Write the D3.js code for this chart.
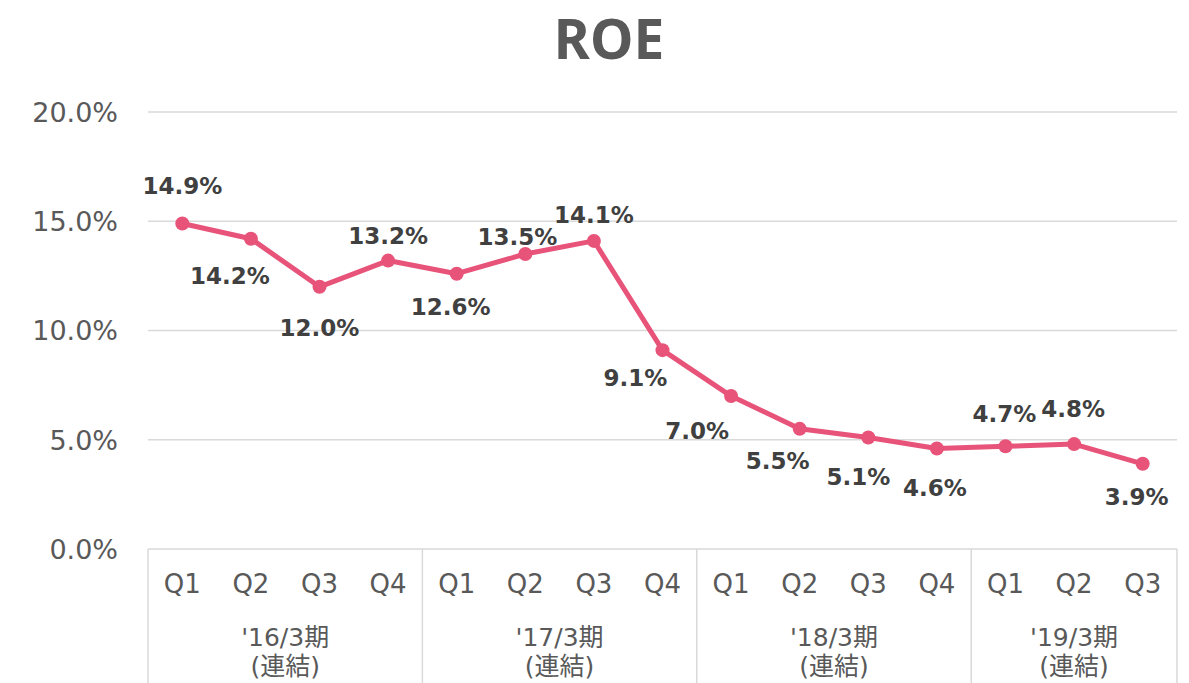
<!DOCTYPE html>
<html>
<head>
<meta charset="utf-8">
<script src="https://cdn.jsdelivr.net/npm/d3@7"></script>
<style>
  body { margin: 0; background: #fff; }
  svg text { font-family: "DejaVu Sans", "Noto Sans CJK JP", sans-serif; }
</style>
</head>
<body>
<div id="chart"></div>
<script>
// data
const quarters = ["Q1", "Q2", "Q3", "Q4", "Q1", "Q2", "Q3", "Q4", "Q1", "Q2", "Q3", "Q4", "Q1", "Q2", "Q3"];
const periods = ["'16/3期", "'17/3期", "'18/3期", "'19/3期"];
const periodSizes = [4, 4, 4, 3];
const roe = [14.9, 14.2, 12.0, 13.2, 12.6, 13.5, 14.1, 9.1, 7.0, 5.5, 5.1, 4.6, 4.7, 4.8, 3.9];
const yTicks = [0, 5, 10, 15, 20];

// label placement (offset from each point, px)
const labelDx = [0, -21, 0, 0, -6, -8, 0, -27, -34, -22, -10, -2, -1, -1, -6];
const labelDy = [-37, 37, 41, -25, 33, -17, -26, 28, 35, 32, 39, 39, -32, -35, 33];

const W = 1189, H = 683;
const plotL = 148, plotR = 1177, plotT = 112, plotB = 549;

const svg = d3.select("#chart").append("svg")
  .attr("width", W)
  .attr("height", H);

const x = d3.scaleBand()
  .domain(d3.range(quarters.length))
  .range([plotL, plotR]);

const y = d3.scaleLinear()
  .domain([0, 20])
  .range([plotB, plotT]);

// title
svg.append("text")
  .attr("x", 609)
  .attr("y", 59)
  .attr("text-anchor", "middle")
  .style("font-family", "'Noto Sans', 'DejaVu Sans', sans-serif")
  .style("font-weight", "bold")
  .style("font-size", "55px")
  .style("fill", "#595959")
  .text("ROE");

// gridlines
svg.append("g")
  .selectAll("line")
  .data(yTicks)
  .enter()
  .append("line")
  .attr("x1", plotL)
  .attr("x2", plotR)
  .attr("y1", d => y(d))
  .attr("y2", d => y(d))
  .style("stroke", "#d9d9d9")
  .style("stroke-width", 1.5);

// y axis labels
const yAxis = d3.axisLeft(y)
  .tickValues(yTicks)
  .tickSize(0)
  .tickPadding(0)
  .tickFormat(d => d.toFixed(1) + "%");

const gy = svg.append("g")
  .attr("transform", `translate(118,0)`)
  .call(yAxis);
gy.select(".domain").remove();
gy.selectAll("text")
  .style("font-size", "27px")
  .style("fill", "#595959")
  .attr("dy", "0.35em");

// x axis: quarter labels
const xAxis = d3.axisBottom(x)
  .tickSize(0)
  .tickPadding(0)
  .tickFormat(i => quarters[i]);

const gx = svg.append("g")
  .attr("transform", `translate(0,${plotB})`)
  .call(xAxis);
gx.select(".domain").remove();
gx.selectAll("text")
  .attr("y", 44)
  .attr("dy", 0)
  .style("font-size", "26px")
  .style("fill", "#595959");

// period separators and labels
const starts = periodSizes.map((s, i) => d3.sum(periodSizes.slice(0, i)));
const bounds = starts.map(s => x(s)).concat([plotR]);

svg.append("g")
  .selectAll("line")
  .data(bounds)
  .enter()
  .append("line")
  .attr("x1", d => d)
  .attr("x2", d => d)
  .attr("y1", plotB)
  .attr("y2", H)
  .style("stroke", "#d9d9d9")
  .style("stroke-width", 1.5);

const pg = svg.append("g")
  .selectAll("text")
  .data(periods)
  .enter()
  .append("text")
  .attr("text-anchor", "middle")
  .style("font-size", "25px")
  .style("fill", "#595959");

pg.append("tspan")
  .attr("x", (d, i) => (bounds[i] + bounds[i + 1]) / 2)
  .attr("y", 646)
  .text(d => d);

pg.append("tspan")
  .attr("x", (d, i) => (bounds[i] + bounds[i + 1]) / 2)
  .attr("y", 675)
  .text("(連結)");

// line
const cx = i => x(i) + x.bandwidth() / 2;

const line = d3.line()
  .x((d, i) => cx(i))
  .y(d => y(d));

svg.append("path")
  .datum(roe)
  .attr("d", line)
  .style("fill", "none")
  .style("stroke", "#e8537a")
  .style("stroke-width", 5)
  .style("stroke-linejoin", "round");

svg.append("g")
  .selectAll("circle")
  .data(roe)
  .enter()
  .append("circle")
  .attr("cx", (d, i) => cx(i))
  .attr("cy", d => y(d))
  .attr("r", 7)
  .style("fill", "#e8537a");

// data labels
svg.append("g")
  .selectAll("text")
  .data(roe)
  .enter()
  .append("text")
  .attr("x", (d, i) => cx(i) + labelDx[i])
  .attr("y", (d, i) => y(d) + labelDy[i])
  .attr("dy", "0.35em")
  .attr("text-anchor", "middle")
  .style("font-size", "23px")
  .style("font-weight", "bold")
  .style("fill", "#404040")
  .text(d => d.toFixed(1) + "%");
</script>
</body>
</html>
